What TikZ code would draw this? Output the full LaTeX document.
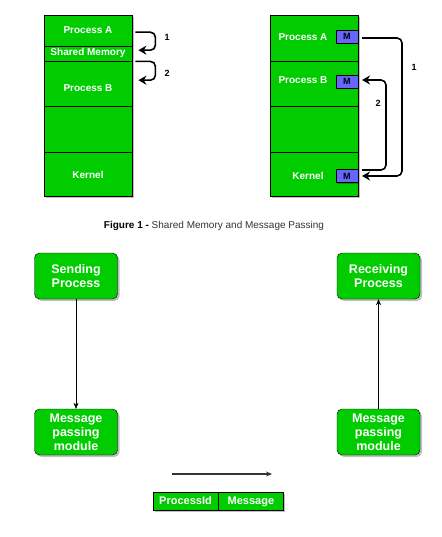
\documentclass[tikz,border=0pt]{standalone}
\usepackage{fontspec}
\setmainfont{Liberation Sans}
\usepackage{xcolor}
\usetikzlibrary{positioning}
\usetikzlibrary{arrows.meta}
\usetikzlibrary{shadows}
\definecolor{procgreen}{RGB}{0,204,0}
\definecolor{msgblue}{RGB}{102,102,255}
\definecolor{captiongray}{RGB}{51,51,51}

\begin{document}
\begin{tikzpicture}[
  x=1pt, y=-1pt,
  font=\bfseries\fontsize{10}{12}\selectfont,
  layer/.style={draw, fill=procgreen, minimum width=88pt, inner sep=0pt, anchor=north west},
  layertext/.style={text=white},
  mbox/.style={draw, fill=msgblue, minimum width=22pt, minimum height=13pt, inner sep=0pt,
    anchor=east, font=\bfseries\fontsize{9}{10}\selectfont,
    drop shadow={shadow xshift=1.5pt, shadow yshift=-1.5pt, fill=black, opacity=0.25}},
  hop/.style={line width=1.6pt, rounded corners=5pt, -{Stealth[length=8pt,width=9pt]}},
  hoplabel/.style={font=\bfseries\fontsize{9}{10}\selectfont},
  procbox/.style={draw, fill=procgreen, rounded corners=5pt, minimum width=83pt, minimum height=46pt,
    inner sep=2pt, text=white, align=center, font=\bfseries\fontsize{12.5}{14}\selectfont,
    drop shadow={shadow xshift=2pt, shadow yshift=-2pt, fill=black, opacity=0.25}},
  flow/.style={-{Stealth[length=6pt,width=5pt]}},
  cell/.style={draw, fill=procgreen, minimum width=65pt, minimum height=18pt, inner sep=0pt,
    text height=8pt, text depth=2pt,
    text=white, font=\bfseries\fontsize{11}{12}\selectfont,
    drop shadow={shadow xshift=2pt, shadow yshift=-2pt, fill=black, opacity=0.25}}
]
\useasboundingbox (0,0) rectangle (441,537);

% Shared memory stack
\fill[black!25] (46,17) rectangle (134,198);
\node[layer, minimum height=31pt] (lpa) at (44,15) {};
\node[layer, minimum height=15pt] (lsm) at (44,46) {};
\node[layer, minimum height=45pt] (lpb) at (44,61) {};
\node[layer, minimum height=46pt] (lfree) at (44,106) {};
\node[layer, minimum height=44pt] (lker) at (44,152) {};
\node[layertext] (lpatext) at (88,30) {Process A};
\node[layertext] (lsmtext) at (88,52.5) {Shared Memory};
\node[layertext] (lpbtext) at (88,88.5) {Process B};
\node[layertext] (lkertext) at (88,175) {Kernel};

% Shared memory hops
\draw[hop] ([xshift=3pt,yshift=-1.5pt]lpa.east) -- ++(20,0) |- ([xshift=6pt,yshift=3.5pt]lsm.east);
\draw[hop] ([xshift=3pt]lsm.south east) -- ++(20,0) |- ([xshift=6pt,yshift=3.5pt]lpb.east);
\node[hoplabel] (lone) at (167,37) {1};
\node[hoplabel] (ltwo) at (167,73) {2};

% Message passing stack
\fill[black!25] (272,17) rectangle (360,198);
\node[layer, minimum height=46pt] (rpa) at (270,15) {};
\node[layer, minimum height=45pt] (rpb) at (270,61) {};
\node[layer, minimum height=46pt] (rfree) at (270,106) {};
\node[layer, minimum height=44pt] (rker) at (270,152) {};
\node[layertext] (rpatext) at (303,37.5) {Process A};
\node[layertext] (rpbtext) at (303,80.5) {Process B};
\node[layertext] (rkertext) at (308,176) {Kernel};
\node[mbox] (ma) at (358,36.5) {M};
\node[mbox] (mb) at (358,81.5) {M};
\node[mbox] (mk) at (358,176) {M};

% Message hops
\draw[hop] ([xshift=4pt,yshift=-1.5pt]ma.east) -- ++(40,0) |- ([xshift=4pt]mk.east);
\draw[hop] ([xshift=4pt,yshift=6pt]mk.east) -- ++(24,0) |- ([xshift=4pt,yshift=1.5pt]mb.east);
\node[hoplabel] (rone) at (414,67) {1};
\node[hoplabel] (rtwo) at (378,103) {2};

% Caption
\node[font=\fontsize{10}{12}\selectfont, text=captiongray] (caption) at (214,226)
  {\textbf{\color{black}Figure 1 -} Shared Memory and Message Passing};

% Processes and modules
\node[procbox] (send) at (76,276) {Sending\\Process};
\node[procbox] (recv) at (378.5,276) {Receiving\\Process};
\node[procbox] (sendmod) at (76,432) {Message\\passing\\module};
\node[procbox] (recvmod) at (378.5,432) {Message\\passing\\module};
\draw[flow] (send) -- (sendmod);
\draw[flow] (recvmod) -- (recv);

% Message format
\coordinate (msgfrom) at (172,474);
\coordinate (msgto) at (272,474);
\draw[flow, draw=captiongray, fill=captiongray, line width=1.2pt] (msgfrom) -- (msgto);
\node[cell] (pid) at (185.5,501) {ProcessId};
\node[cell, right=0pt of pid] (msg) {Message};
\end{tikzpicture}
\end{document}
